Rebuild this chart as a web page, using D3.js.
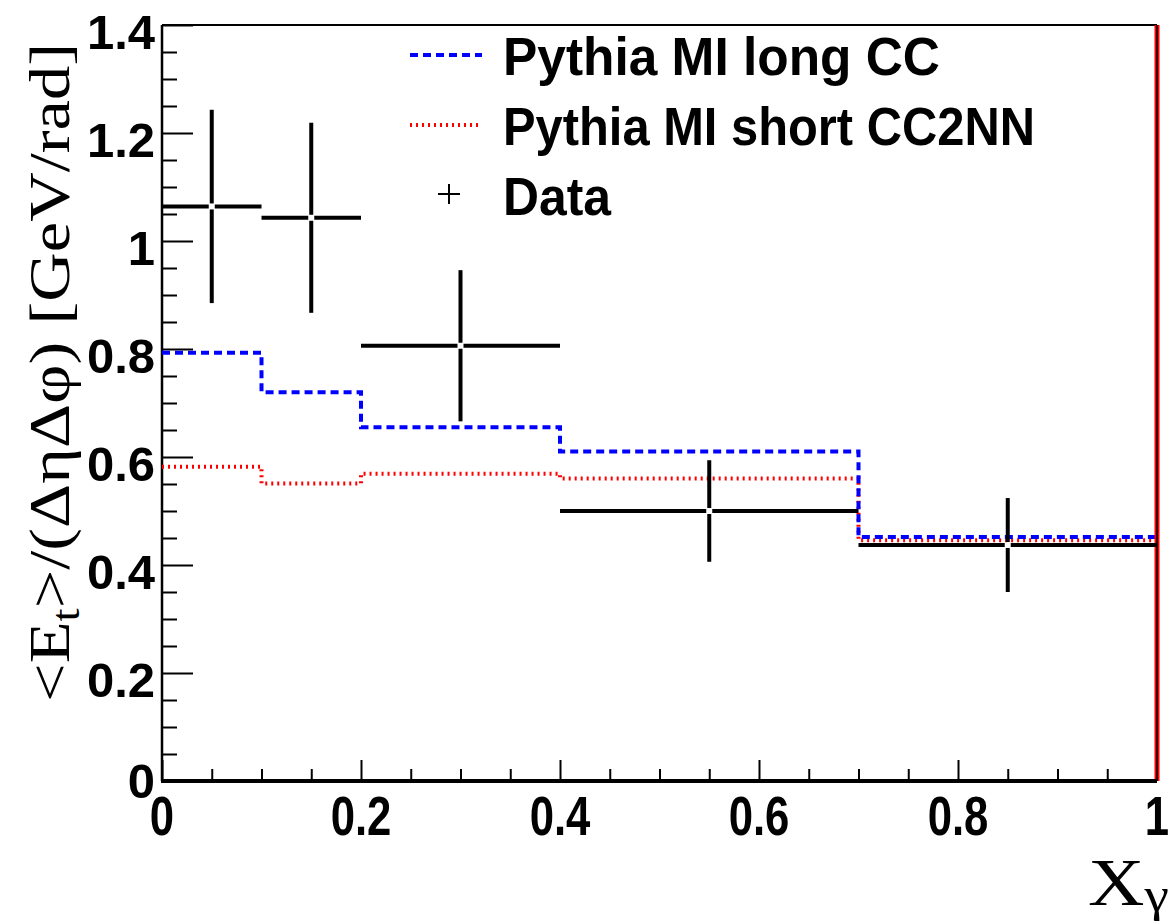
<!DOCTYPE html>
<html>
<head>
<meta charset="utf-8">
<script src="https://cdn.jsdelivr.net/npm/d3@7"></script>
<style>
  html, body { margin: 0; padding: 0; background: #fff; }
  svg { display: block; }
</style>
</head>
<body>
<svg id="chart" width="1169" height="922"></svg>
<script>
// Bin edges in x_gamma and the per-bin values
const binLo = [0.0, 0.1, 0.2, 0.4, 0.7];
const binHi = [0.1, 0.2, 0.4, 0.7, 1.0];
const binCenter = [0.05, 0.15, 0.3, 0.55, 0.85];

// Measured <Et>/(ΔηΔφ) with statistical errors
const dataValues = [1.064, 1.043, 0.806, 0.500, 0.437];
const dataErrors = [0.179, 0.176, 0.140, 0.094, 0.087];

// Pythia multiple-interaction predictions
const pythiaLongCC = [0.793, 0.720, 0.655, 0.610, 0.452];
const pythiaShortCC2NN = [0.582, 0.551, 0.569, 0.560, 0.446];

// Axis ticks
const yMajorTicks = [0, 0.2, 0.4, 0.6, 0.8, 1.0, 1.2, 1.4];
const yTickLabels = ["0", "0.2", "0.4", "0.6", "0.8", "1", "1.2", "1.4"];
const xMajorTicks = [0, 0.2, 0.4, 0.6, 0.8, 1.0];
const xTickLabels = ["0", "0.2", "0.4", "0.6", "0.8", "1"];

const legendLabels = ["Pythia MI long CC", "Pythia MI short CC2NN", "Data"];
const legendWidths = [437, 532, 108];

const svg = d3.select("#chart");
const sans = "'Liberation Sans', Arial, Helvetica, sans-serif";
const serif = "'Liberation Serif', 'Times New Roman', Times, serif";

const x = d3.scaleLinear().domain([0, 1]).range([162, 1157]);
const y = d3.scaleLinear().domain([0, 1.4]).range([781, 25]);

const yMinor = d3.range(0, 1.4001, 0.05).filter(v => Math.abs(v * 5 - Math.round(v * 5)) > 1e-6);
const xMinor = d3.range(0, 1.0001, 0.05).filter(v => Math.abs(v * 5 - Math.round(v * 5)) > 1e-6);

// ---- frame ----
svg.append("line").attr("x1", x(0)).attr("x2", x(1)).attr("y1", y(1.4)).attr("y2", y(1.4))
  .attr("stroke", "#000").attr("stroke-width", 2);

// ---- y axis (ticks point into the plot) ----
function styleAxis(g) {
  g.select(".domain").remove();
  g.selectAll(".tick line").attr("stroke", "#000").attr("stroke-width", 2);
  g.selectAll(".tick text").remove();
}
svg.append("g").attr("transform", `translate(${x(0)},0)`)
  .call(d3.axisRight(y).tickValues(yMajorTicks).tickSize(31).tickFormat(""))
  .call(styleAxis);
svg.append("g").attr("transform", `translate(${x(0)},0)`)
  .call(d3.axisRight(y).tickValues(yMinor).tickSize(15).tickFormat(""))
  .call(styleAxis);
svg.append("line").attr("x1", x(0)).attr("x2", x(0)).attr("y1", y(1.4)).attr("y2", y(0))
  .attr("stroke", "#000").attr("stroke-width", 2.5);

// ---- x axis (ticks point up) ----
svg.append("g").attr("transform", `translate(0,${y(0)})`)
  .call(d3.axisTop(x).tickValues(xMajorTicks).tickSize(21).tickFormat(""))
  .call(styleAxis);
svg.append("g").attr("transform", `translate(0,${y(0)})`)
  .call(d3.axisTop(x).tickValues(xMinor).tickSize(12).tickFormat(""))
  .call(styleAxis);

// ---- tick labels ----
svg.append("g").selectAll("text").data(yMajorTicks).join("text")
  .attr("x", 155)
  .attr("y", d => d === 0 ? y(d) + 17 : y(d) + 24)
  .attr("text-anchor", "end")
  .attr("font-family", sans).attr("font-weight", "bold").attr("font-size", 49)
  .attr("fill", "#000")
  .text((d, i) => yTickLabels[i]);

svg.append("g").selectAll("g").data(xMajorTicks).join("g")
  .attr("transform", d => `translate(${x(d)},835) scale(0.78,1)`)
  .append("text")
  .attr("text-anchor", "middle")
  .attr("font-family", sans).attr("font-weight", "bold").attr("font-size", 56)
  .attr("fill", "#000")
  .text((d, i) => xTickLabels[i]);

// ---- histograms ----
function stepPoints(vals) {
  const pts = vals.map((v, i) => [binLo[i], v]);
  pts.push([binHi[binHi.length - 1], vals[vals.length - 1]]);
  return pts;
}
const stepLine = d3.line().x(d => x(d[0])).y(d => y(d[1])).curve(d3.curveStepAfter);

svg.append("path").attr("d", stepLine(stepPoints(pythiaShortCC2NN)))
  .attr("fill", "none").attr("stroke", "#ff0000").attr("stroke-width", 4)
  .attr("stroke-dasharray", "2,4");

svg.append("path").attr("d", stepLine(stepPoints(pythiaLongCC)))
  .attr("fill", "none").attr("stroke", "#0000ff").attr("stroke-width", 4)
  .attr("stroke-dasharray", "8,5");

// right edge of the histogram frame
svg.append("line").attr("x1", x(1)).attr("x2", x(1)).attr("y1", y(1.4)).attr("y2", y(0))
  .attr("stroke", "#ff0000").attr("stroke-width", 5);
svg.append("line").attr("x1", x(1)).attr("x2", x(1)).attr("y1", y(1.4)).attr("y2", y(0))
  .attr("stroke", "#000").attr("stroke-width", 1.5);

// ---- data points with error bars ----
const gap = 3;
const pts = svg.append("g").attr("stroke", "#000").attr("stroke-width", 4);
dataValues.forEach((v, i) => {
  const cx = x(binCenter[i]), cy = y(v);
  pts.append("line").attr("x1", x(binLo[i])).attr("x2", cx - gap).attr("y1", cy).attr("y2", cy);
  pts.append("line").attr("x1", cx + gap).attr("x2", x(binHi[i])).attr("y1", cy).attr("y2", cy);
  pts.append("line").attr("x1", cx).attr("x2", cx).attr("y1", y(v + dataErrors[i])).attr("y2", cy - gap);
  pts.append("line").attr("x1", cx).attr("x2", cx).attr("y1", cy + gap).attr("y2", y(v - dataErrors[i]));
});

// bottom axis line drawn last so it sits on top
svg.append("line").attr("x1", x(0) - 1).attr("x2", x(1)).attr("y1", y(0)).attr("y2", y(0))
  .attr("stroke", "#000").attr("stroke-width", 4);

// ---- legend ----
const legend = svg.append("g");
legend.append("line").attr("x1", 410).attr("x2", 482).attr("y1", 55).attr("y2", 55)
  .attr("stroke", "#0000ff").attr("stroke-width", 4).attr("stroke-dasharray", "8,5");
legend.append("line").attr("x1", 410).attr("x2", 482).attr("y1", 125).attr("y2", 125)
  .attr("stroke", "#ff0000").attr("stroke-width", 4).attr("stroke-dasharray", "2,4");
legend.append("line").attr("x1", 438).attr("x2", 460).attr("y1", 194).attr("y2", 194)
  .attr("stroke", "#000").attr("stroke-width", 2);
legend.append("line").attr("x1", 449).attr("x2", 449).attr("y1", 184).attr("y2", 204)
  .attr("stroke", "#000").attr("stroke-width", 2);

legend.selectAll("text.lbl").data(legendLabels).join("text")
  .attr("class", "lbl")
  .attr("x", 503).attr("y", (d, i) => 75 + i * 70)
  .attr("textLength", (d, i) => legendWidths[i])
  .attr("lengthAdjust", "spacingAndGlyphs")
  .attr("font-family", sans).attr("font-weight", "bold").attr("font-size", 54)
  .attr("fill", "#000")
  .text(d => d);

// ---- axis titles ----
const xTitle = svg.append("g").attr("transform", "translate(1088,905) scale(1.15,1)")
  .append("text")
  .attr("x", 0).attr("y", 0)
  .attr("font-family", serif).attr("font-size", 68).attr("fill", "#000");
xTitle.append("tspan").text("X");
xTitle.append("tspan").attr("dy", 6).attr("font-size", 48).text("γ");

const yTitleG = svg.append("g");
const yTitle = yTitleG.append("text")
  .attr("x", 0).attr("y", 0)
  .attr("font-family", serif).attr("font-size", 58).attr("fill", "#000");
yTitle.append("tspan").text("<E");
yTitle.append("tspan").attr("dy", 10).attr("font-size", 40).text("t");
yTitle.append("tspan").attr("dy", -10).text(">/(ΔηΔφ) [GeV/rad]");
const yLen = yTitle.node().getComputedTextLength();
const ysx = 659 / yLen;
yTitleG.attr("transform", `translate(69,702) rotate(-90) scale(${ysx},1)`);
</script>
</body>
</html>
